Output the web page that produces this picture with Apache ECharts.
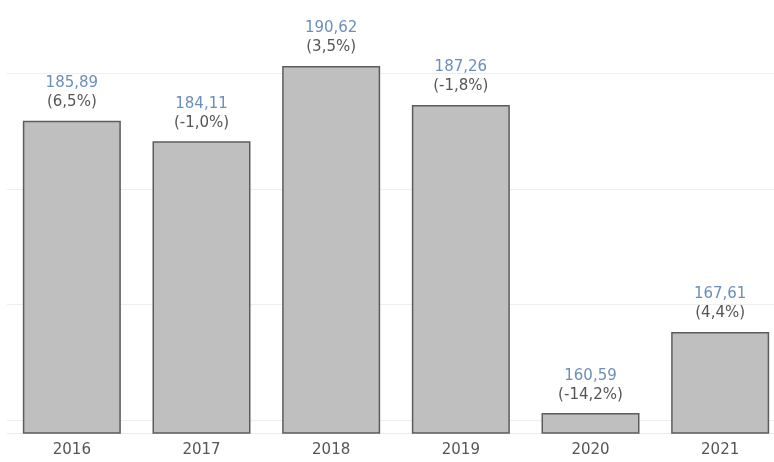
<!DOCTYPE html>
<html>
<head>
    <meta charset="utf-8">
    <title>index</title>
    <style>
        html, body { margin: 0; padding: 0; background: #fff; overflow: hidden; }
    </style>
</head>
<body>
    <div id="main" style="width: 774px;height:462px;"></div>
    <script src="https://cdn.jsdelivr.net/npm/echarts@6/dist/echarts.min.js"></script>
    <script>
        // 数据
        var years = ['2016', '2017', '2018', '2019', '2020', '2021'];
        var values = [185.89, 184.11, 190.62, 187.26, 160.59, 167.61];
        var growth = [6.5, -1.0, 3.5, -1.8, -14.2, 4.4];
        var gridValues = [160, 170, 180, 190];

        function fmt(v, d) {
            return v.toFixed(d).replace('.', ',');
        }

        var myChart = echarts.init(document.getElementById('main'));
        var option = {
            backgroundColor: '#fff',
            animation: false,
            grid: {
                left: 7,
                width: 778,
                top: 0,
                bottom: 29,
                outerBoundsMode: 'none'
            },
            xAxis: {
                type: 'category',
                data: years,
                axisLine: { show: true, lineStyle: { color: '#ececec', width: 1 } },
                axisTick: { show: false },
                axisLabel: {
                    color: '#555',
                    fontSize: 15,
                    fontFamily: 'DejaVu Sans',
                    margin: 10
                }
            },
            yAxis: {
                type: 'value',
                min: 158.87,
                max: 196.34,
                show: false,
                splitLine: { show: false }
            },
            series: [{
                type: 'bar',
                data: values,
                barWidth: 98,
                itemStyle: {
                    color: '#bfbfbf',
                    borderColor: '#5c5c5c',
                    borderWidth: 1.5
                },
                label: {
                    show: true,
                    position: 'top',
                    distance: 9,
                    formatter: function (p) {
                        var g = growth[p.dataIndex];
                        return '{a|' + fmt(p.value, 2) + '}\n{b|(' + fmt(g, 1) + '%)}';
                    },
                    rich: {
                        a: { color: '#6b8fba', fontSize: 15, lineHeight: 19, fontFamily: 'DejaVu Sans' },
                        b: { color: '#555', fontSize: 15, lineHeight: 19, fontFamily: 'DejaVu Sans' }
                    }
                },
                markLine: {
                    silent: true,
                    symbol: 'none',
                    label: { show: false },
                    lineStyle: { color: '#eeeeee', type: 'solid', width: 1 },
                    data: gridValues.map(function (v) { return { yAxis: v }; }),
                    z: 0
                },
                z: 2
            }]
        };
        myChart.setOption(option);
    </script>
</body>
</html>
